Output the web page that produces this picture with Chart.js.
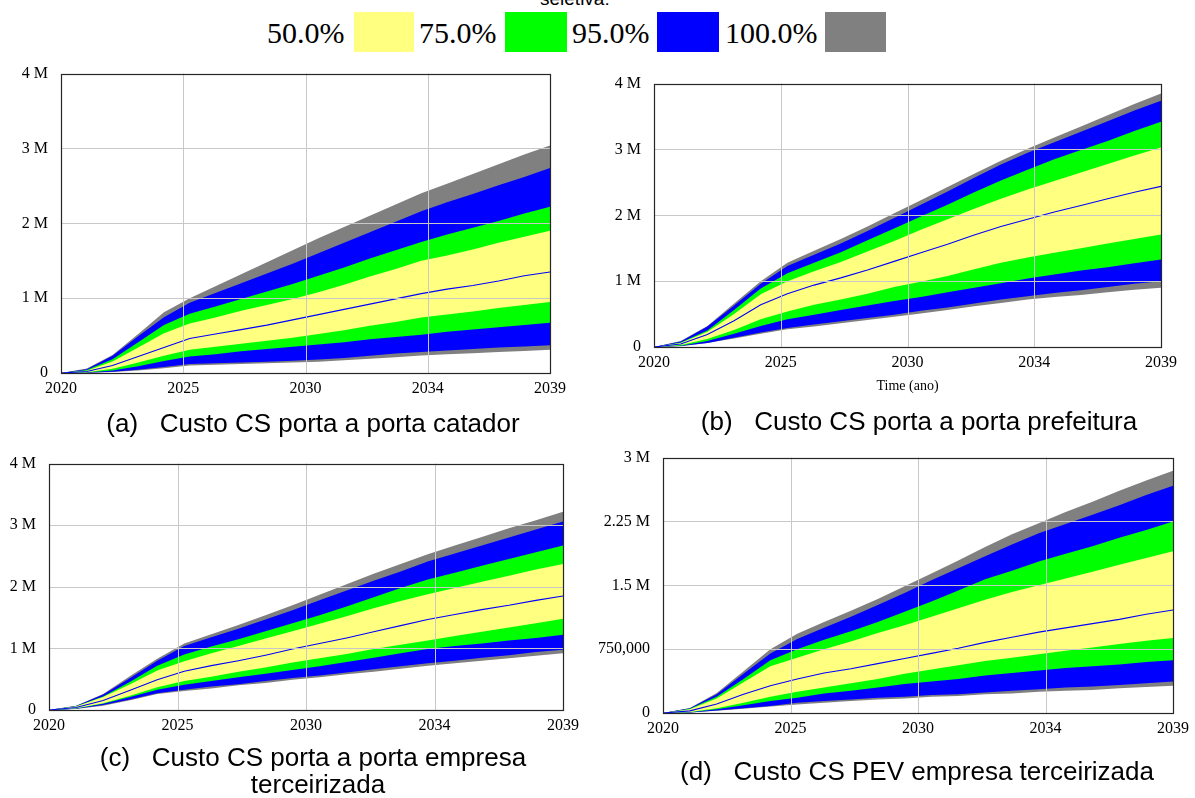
<!DOCTYPE html>
<html><head><meta charset="utf-8">
<script src="https://cdn.jsdelivr.net/npm/chart.js@4.4.1/dist/chart.umd.min.js"></script>
<style>
html,body{margin:0;padding:0;background:#fff;}
body{width:1195px;height:798px;overflow:hidden;position:relative;}
canvas{position:absolute;}
.cap{position:absolute;font-family:"Liberation Sans",Arial,sans-serif;font-size:26px;line-height:30px;color:#000;white-space:pre;text-align:center;width:640px;}
.lg{position:absolute;font-family:"Liberation Serif","Times New Roman",serif;font-size:30px;line-height:30px;color:#000;white-space:nowrap;}
.sw{position:absolute;top:12px;height:40px;}
</style></head><body>

<div class="cap" style="font-size:19px;line-height:19px;left:540px;width:auto;text-align:left;top:-11px;">seletiva:</div>
<div class="lg" style="left:267px;top:18px;">50.0%</div>
<div class="sw" style="left:354px;width:60px;background:#ffff80;"></div>
<div class="lg" style="left:419px;top:18px;">75.0%</div>
<div class="sw" style="left:505px;width:62px;background:#00ff00;"></div>
<div class="lg" style="left:572px;top:18px;">95.0%</div>
<div class="sw" style="left:657px;width:62px;background:#0000ff;"></div>
<div class="lg" style="left:725px;top:18px;">100.0%</div>
<div class="sw" style="left:825px;width:61px;background:#808080;"></div>

<canvas id="ca" width="564" height="352" style="left:16px;top:51px;"></canvas>
<canvas id="cb" width="582" height="336" style="left:609px;top:61px;"></canvas>
<canvas id="cc" width="589" height="299" style="left:4px;top:441px;"></canvas>
<canvas id="cd" width="602" height="308" style="left:593px;top:435px;"></canvas>

<div class="cap" style="left:-7px;top:408px;">(a)   Custo CS porta a porta catador</div>
<div class="cap" style="left:599px;top:406px;">(b)   Custo CS porta a porta prefeitura</div>
<div class="cap" style="left:-7px;top:742px;">(c)   Custo CS porta a porta empresa</div>
<div class="cap" style="left:-2px;top:769px;">terceirizada</div>
<div class="cap" style="left:597px;top:756px;">(d)   Custo CS PEV empresa terceirizada</div>

<script>
// ---------- data (values in millions) ----------
const years = [2020,2021,2022,2023,2024,2025,2026,2027,2028,2029,2030,2031,2032,2033,2034,2035,2036,2037,2038,2039];
const xTickValues = [2020, 2024.75, 2029.5, 2034.25, 2039];
const xTickLabels = ["2020","2025","2030","2034","2039"];
const yTickValuesM = [0,1,2,3,4];
const yTickLabelsM = ["0","1 M","2 M","3 M","4 M"];
const yTickValuesD = [0,0.75,1.5,2.25,3];
const yTickLabelsD = ["0","750,000","1.5 M","2.25 M","3 M"];
const bandLabels = ["100.0%","95.0%","75.0%","50.0%"];
const bandColors = ["#808080","#0000ff","#00ff00","#ffff80"];

// (a) Custo CS porta a porta catador
const aHi100 = [0,0.06,0.24,0.52,0.81,1.00,1.16,1.32,1.48,1.64,1.80,1.95,2.10,2.25,2.40,2.53,2.66,2.79,2.92,3.04];
const aHi95  = [0,0.05,0.23,0.49,0.745,0.94,1.07,1.20,1.33,1.46,1.60,1.74,1.88,2.02,2.16,2.28,2.39,2.51,2.62,2.74];
const aHi75  = [0,0.04,0.185,0.41,0.64,0.79,0.89,0.99,1.09,1.19,1.30,1.41,1.53,1.64,1.75,1.85,1.94,2.03,2.13,2.22];
const aHi50  = [0,0.03,0.155,0.34,0.53,0.66,0.74,0.83,0.91,0.99,1.08,1.18,1.29,1.39,1.50,1.57,1.65,1.74,1.82,1.90];
const aMed   = [0,0.02,0.10,0.22,0.34,0.46,0.52,0.58,0.64,0.71,0.78,0.85,0.92,0.99,1.06,1.12,1.17,1.23,1.30,1.35];
const aLo50  = [0,0.01,0.056,0.14,0.23,0.31,0.35,0.39,0.43,0.47,0.52,0.57,0.63,0.68,0.74,0.78,0.82,0.87,0.91,0.95];
const aLo75  = [0,0.006,0.035,0.09,0.16,0.22,0.25,0.29,0.32,0.35,0.38,0.41,0.45,0.48,0.51,0.55,0.58,0.61,0.64,0.67];
const aLo95  = [0,0.003,0.017,0.045,0.08,0.12,0.13,0.14,0.15,0.165,0.18,0.20,0.23,0.26,0.28,0.30,0.32,0.34,0.355,0.37];
const aLo100 = [0,0.002,0.013,0.035,0.065,0.10,0.11,0.12,0.13,0.14,0.15,0.17,0.19,0.21,0.235,0.25,0.265,0.28,0.295,0.31];

// (b) Custo CS porta a porta prefeitura
const bHi100 = [0,0.09,0.32,0.66,1.00,1.28,1.46,1.64,1.83,2.03,2.23,2.43,2.63,2.83,3.01,3.18,3.35,3.52,3.69,3.85];
const bHi95  = [0,0.085,0.31,0.63,0.96,1.23,1.40,1.57,1.76,1.96,2.16,2.36,2.57,2.77,2.95,3.11,3.27,3.43,3.59,3.74];
const bHi75  = [0,0.07,0.25,0.56,0.89,1.12,1.28,1.44,1.62,1.80,1.98,2.16,2.35,2.53,2.69,2.85,2.99,3.13,3.28,3.42];
const bHi50  = [0,0.06,0.23,0.50,0.80,1.00,1.15,1.29,1.45,1.61,1.78,1.94,2.10,2.25,2.39,2.52,2.65,2.78,2.91,3.03];
const bMed   = [0,0.045,0.19,0.40,0.64,0.81,0.94,1.05,1.17,1.30,1.43,1.56,1.70,1.83,1.94,2.05,2.15,2.25,2.35,2.44];
const bLo50  = [0,0.03,0.12,0.26,0.42,0.54,0.64,0.72,0.81,0.91,0.99,1.08,1.18,1.28,1.36,1.43,1.50,1.57,1.64,1.71];
const bLo75  = [0,0.02,0.09,0.20,0.32,0.42,0.49,0.56,0.63,0.70,0.76,0.83,0.90,0.97,1.04,1.10,1.16,1.21,1.27,1.33];
const bLo95  = [0,0.015,0.06,0.14,0.22,0.29,0.34,0.39,0.44,0.49,0.55,0.60,0.66,0.72,0.77,0.82,0.86,0.91,0.96,1.00];
const bLo100 = [0,0.012,0.06,0.13,0.20,0.27,0.31,0.36,0.41,0.46,0.51,0.56,0.62,0.67,0.72,0.76,0.79,0.83,0.87,0.90];

// (c) Custo CS porta a porta empresa terceirizada
const cHi100 = [0,0.07,0.26,0.55,0.83,1.08,1.23,1.38,1.54,1.70,1.87,2.04,2.21,2.37,2.53,2.67,2.81,2.95,3.08,3.22];
const cHi95  = [0,0.065,0.25,0.52,0.80,1.04,1.18,1.32,1.47,1.62,1.78,1.94,2.10,2.25,2.41,2.54,2.67,2.80,2.93,3.06];
const cHi75  = [0,0.06,0.22,0.46,0.72,0.90,1.03,1.15,1.28,1.41,1.54,1.68,1.83,1.98,2.12,2.23,2.34,2.45,2.56,2.67];
const cHi50  = [0,0.055,0.21,0.42,0.64,0.79,0.92,1.04,1.16,1.28,1.40,1.52,1.65,1.77,1.88,1.98,2.08,2.18,2.28,2.37];
const cMed   = [0,0.04,0.155,0.32,0.49,0.63,0.72,0.80,0.89,0.99,1.08,1.17,1.27,1.37,1.47,1.55,1.63,1.70,1.78,1.85];
const cLo50  = [0,0.03,0.11,0.23,0.37,0.47,0.54,0.62,0.69,0.77,0.84,0.91,0.99,1.06,1.13,1.20,1.27,1.34,1.41,1.48];
const cLo75  = [0,0.025,0.10,0.21,0.33,0.41,0.47,0.53,0.59,0.65,0.71,0.78,0.85,0.92,0.99,1.04,1.08,1.13,1.17,1.22];
const cLo95  = [0,0.02,0.08,0.17,0.27,0.33,0.38,0.42,0.47,0.52,0.56,0.61,0.66,0.71,0.76,0.80,0.85,0.89,0.94,0.98];
const cLo100 = [0,0.018,0.07,0.16,0.26,0.31,0.35,0.40,0.44,0.49,0.53,0.58,0.62,0.67,0.72,0.76,0.80,0.84,0.88,0.92];

// (d) Custo CS PEV empresa terceirizada
const dHi100 = [0,0.06,0.235,0.49,0.75,0.93,1.07,1.20,1.34,1.49,1.64,1.79,1.95,2.10,2.23,2.36,2.48,2.61,2.73,2.845];
const dHi95  = [0,0.055,0.22,0.46,0.70,0.87,1.00,1.13,1.27,1.41,1.56,1.70,1.84,1.98,2.11,2.22,2.33,2.44,2.56,2.67];
const dHi75  = [0,0.05,0.19,0.40,0.62,0.75,0.86,0.96,1.07,1.19,1.31,1.44,1.57,1.67,1.78,1.87,1.96,2.06,2.15,2.25];
const dHi50  = [0,0.045,0.17,0.36,0.55,0.65,0.75,0.84,0.94,1.03,1.13,1.23,1.33,1.42,1.50,1.58,1.66,1.74,1.82,1.90];
const dMed   = [0,0.025,0.106,0.22,0.32,0.40,0.47,0.52,0.58,0.64,0.70,0.76,0.83,0.89,0.95,1.00,1.05,1.10,1.16,1.21];
const dLo50  = [0,0.012,0.057,0.12,0.19,0.25,0.30,0.35,0.40,0.46,0.51,0.56,0.61,0.65,0.69,0.73,0.77,0.81,0.85,0.88];
const dLo75  = [0,0.01,0.045,0.09,0.14,0.18,0.23,0.26,0.30,0.34,0.37,0.40,0.44,0.47,0.50,0.53,0.55,0.57,0.60,0.62];
const dLo95  = [0,0.007,0.03,0.055,0.083,0.12,0.14,0.16,0.18,0.19,0.21,0.22,0.24,0.26,0.28,0.30,0.31,0.33,0.35,0.37];
const dLo100 = [0,0.006,0.026,0.05,0.076,0.10,0.12,0.14,0.16,0.17,0.19,0.20,0.22,0.23,0.25,0.26,0.27,0.29,0.305,0.32];

// ---------- rendering ----------
Chart.defaults.font.family = '"Liberation Serif","Times New Roman",serif';
Chart.defaults.font.size = 16;
Chart.defaults.color = '#000';

const gridOverlay = {
  id: 'gridOverlay',
  afterDatasetsDraw(chart) {
    const ctx = chart.ctx, a = chart.chartArea, x = chart.scales.x, y = chart.scales.y;
    ctx.save();
    ctx.strokeStyle = '#c8c8c8';
    ctx.lineWidth = 1;
    x.ticks.forEach((t, i) => {
      if (i === 0 || i === x.ticks.length - 1) return;
      const px = Math.round(x.getPixelForValue(t.value)) + 0.5;
      ctx.beginPath(); ctx.moveTo(px, a.top); ctx.lineTo(px, a.bottom); ctx.stroke();
    });
    y.ticks.forEach((t, i) => {
      if (i === 0 || i === y.ticks.length - 1) return;
      const py = Math.round(y.getPixelForValue(t.value)) + 0.5;
      ctx.beginPath(); ctx.moveTo(a.left, py); ctx.lineTo(a.right, py); ctx.stroke();
    });
    ctx.strokeStyle = '#262626';
    ctx.lineWidth = 1.2;
    ctx.strokeRect(Math.round(a.left) + 0.5, Math.round(a.top) + 0.5, Math.round(a.right - a.left), Math.round(a.bottom - a.top));
    ctx.restore();
  }
};

function bandPair(hi, lo, color, order, label) {
  return [
    { label: label + ' max', data: hi, borderWidth: 0, pointRadius: 0, fill: false, order: order, tension: 0 },
    { label: label + ' min', data: lo, borderWidth: 0, pointRadius: 0, fill: '-1', backgroundColor: color, order: order, tension: 0 }
  ];
}

function makeChart(cfg) {
  const datasets = [
    ...bandPair(cfg.hi[0], cfg.lo[0], bandColors[0], 4, bandLabels[0]),
    ...bandPair(cfg.hi[1], cfg.lo[1], bandColors[1], 3, bandLabels[1]),
    ...bandPair(cfg.hi[2], cfg.lo[2], bandColors[2], 2, bandLabels[2]),
    ...bandPair(cfg.hi[3], cfg.lo[3], bandColors[3], 1, bandLabels[3]),
    { label: 'mediana', data: cfg.med, borderColor: '#0000ff', borderWidth: 1.1, pointRadius: 0, fill: false, order: 0, tension: 0 }
  ];
  return new Chart(document.getElementById(cfg.id), {
    type: 'line',
    data: { labels: years, datasets: datasets.map(d => Object.assign(d, { data: d.data.map((v, i) => ({ x: years[i], y: v })) })) },
    options: {
      responsive: false,
      animation: false,
      devicePixelRatio: 1,
      layout: { padding: { top: 12, right: cfg.pr, left: 0, bottom: 0 } },
      plugins: { legend: { display: false }, tooltip: { enabled: false }, filler: { propagate: false } },
      scales: {
        x: {
          type: 'linear', min: 2020, max: 2039,
          grid: { display: false, drawTicks: false }, border: { display: false },
          afterBuildTicks: s => { s.ticks = xTickValues.map(v => ({ value: v })); },
          afterFit: s => { s.height = cfg.xh; },
          ticks: { autoSkip: false, maxRotation: 0, padding: 6, font: { size: 16 }, callback: (v, i) => xTickLabels[i] },
          title: cfg.xTitle ? { display: true, text: cfg.xTitle, font: { size: 14 }, padding: { top: 0, bottom: 2 } } : { display: false }
        },
        y: {
          type: 'linear', min: 0, max: cfg.yMax,
          grid: { display: false, drawTicks: false }, border: { display: false },
          afterBuildTicks: s => { s.ticks = cfg.yVals.map(v => ({ value: v })); },
          afterFit: s => { s.width = cfg.yw; },
          ticks: { autoSkip: false, padding: 13, font: { size: 16 }, callback: (v, i) => cfg.yLabels[i] }
        }
      }
    },
    plugins: [gridOverlay]
  });
}

makeChart({ id: 'ca', yw: 45, xh: 30, pr: 30, yMax: 4, yVals: yTickValuesM, yLabels: yTickLabelsM,
  hi: [aHi100, aHi95, aHi75, aHi50], lo: [aLo100, aLo95, aLo75, aLo50], med: aMed });
makeChart({ id: 'cb', yw: 45, xh: 50, pr: 30, yMax: 4, yVals: yTickValuesM, yLabels: yTickLabelsM, xTitle: 'Time (ano)',
  hi: [bHi100, bHi95, bHi75, bHi50], lo: [bLo100, bLo95, bLo75, bLo50], med: bMed });
makeChart({ id: 'cc', yw: 45, xh: 30, pr: 30, yMax: 4, yVals: yTickValuesM, yLabels: yTickLabelsM,
  hi: [cHi100, cHi95, cHi75, cHi50], lo: [cLo100, cLo95, cLo75, cLo50], med: cMed });
makeChart({ id: 'cd', yw: 70, xh: 30, pr: 19, yMax: 3, yVals: yTickValuesD, yLabels: yTickLabelsD,
  hi: [dHi100, dHi95, dHi75, dHi50], lo: [dLo100, dLo95, dLo75, dLo50], med: dMed });
</script>
</body></html>
